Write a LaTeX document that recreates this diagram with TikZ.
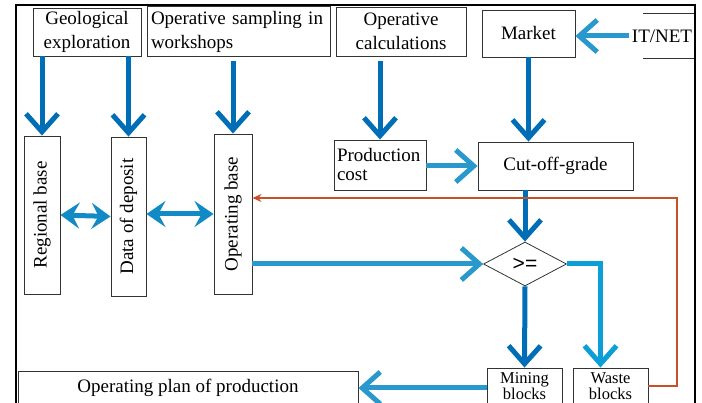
\documentclass[tikz,border=0pt]{standalone}
\usepackage{fontspec}
\setmainfont{Liberation Serif}
\setsansfont{Liberation Sans}
\usetikzlibrary{arrows.meta, shapes.geometric}
\definecolor{flowblue}{RGB}{0, 110, 182}
\definecolor{sideblue}{RGB}{40, 152, 205}
\definecolor{wasteblue}{RGB}{10, 160, 215}
\definecolor{linkblue}{RGB}{18, 138, 198}
\definecolor{backred}{RGB}{200, 80, 40}

\begin{document}
\begin{tikzpicture}[x=1pt, y=-1pt,
  box/.style={draw=black!80, line width=0.9pt, inner sep=2pt, font=\rmfamily\fontsize{19}{24}\selectfont},
  smallbox/.style={box, inner sep=1pt, font=\rmfamily\fontsize{16.5}{16.5}\selectfont, align=center},
  downarrow/.style={line width=5pt, flowblue, -{Straight Barb[length=18pt, width=32pt]}},
  sidearrow/.style={downarrow, sideblue},
  linkarrow/.style={line width=5pt, linkblue, {Stealth[length=19pt, width=26pt, inset=7pt]}-{Stealth[length=19pt, width=26pt, inset=7pt]}},
  backarrow/.style={line width=1.8pt, backred, -{Stealth[length=9pt, width=8pt]}}
]
  \clip (0,0) rectangle (702,403);

  % outer frame
  \draw[line width=1.2pt] (16,410) -- (16,5) -- (695,5) -- (695,410);

  % top row
  \node[box, minimum width=108, minimum height=48, align=center] (geo) at (87,32) {Geological\\exploration};
  \node[box, text width=175, inner sep=4pt, minimum height=49, align=left] (samp) at (238.5,31.5) {Operative sampling in\\workshops};
  \node[box, minimum width=130, minimum height=49, align=center] (calc) at (401,31.5) {Operative\\calculations};
  \node[box, minimum width=93, minimum height=47] (market) at (528.5,33.5) {Market};
  \node[box, draw=none] (itnet) at (662,36) {IT/NET};
  \draw[line width=0.9pt, black!80] (643,13) -- (694,13);
  \draw[line width=0.9pt, black!80] (643,58) -- (694,58);

  % bases
  \node[box, minimum width=36, minimum height=158] (regional) at (42,215) {\rotatebox{90}{Regional base}};
  \node[box, minimum width=35, minimum height=159] (data) at (128.5,216.5) {\rotatebox{90}{Data of deposit}};
  \node[box, minimum width=38, minimum height=160] (opbase) at (233,214) {\rotatebox{90}{Operating base}};

  % middle
  \node[box, text width=86, inner sep=3pt, minimum height=50, align=left, font=\rmfamily\fontsize{19}{19}\selectfont] (prodcost) at (380,165) {Production\\cost};
  \node[box, minimum width=155, minimum height=48] (cutoff) at (555.5,166) {Cut-off-grade};
  \node[draw=black!80, line width=0.8pt, diamond, aspect=1.9, inner sep=0pt, minimum width=83, minimum height=44, font=\sffamily\fontsize{21}{22}\selectfont] (geq) at (525,264) {>=};

  % bottom row
  \node[smallbox, minimum width=75, minimum height=36] (mining) at (524.5,386) {Mining\\blocks};
  \node[smallbox, minimum width=75, minimum height=36] (waste) at (610.5,386) {Waste\\blocks};
  \node[box, minimum width=340, minimum height=34] (plan) at (188,388) {Operating plan of production};

  % arrows from the top
  \draw[downarrow] (geo.south -| regional) -- (regional.north);
  \draw[downarrow] (geo.south -| data) -- (data.north);
  \draw[downarrow, shorten <=4pt] (samp.south -| opbase) -- (opbase.north);
  \draw[downarrow, shorten <=5pt] (calc.south -| prodcost) -- (prodcost.north);
  \draw[downarrow] (market.south) -- (market.south |- cutoff.north);
  \draw[sidearrow] (itnet.west) -- (market.east |- itnet.west);

  % links between bases
  \draw[linkarrow] (regional.east) -- (data.west);
  \draw[linkarrow] (data.east |- opbase) -- (opbase.west);

  % decision
  \draw[sidearrow] (prodcost.east |- cutoff) -- (cutoff.west);
  \draw[downarrow] (cutoff.south -| geq) -- (geq.north);
  \draw[sidearrow] (opbase.east |- geq) -- (geq.west);
  \draw[downarrow] (geq.south) -- (mining.north);
  \draw[downarrow, wasteblue] (geq.east) -| ([xshift=-10pt]waste.north);
  \draw[sidearrow] (mining.west |- plan) -- (plan.east);

  % feedback
  \coordinate (turn) at (677,198);
  \draw[backarrow] (waste.east) -| (turn) -- (turn -| opbase.east);
\end{tikzpicture}
\end{document}
